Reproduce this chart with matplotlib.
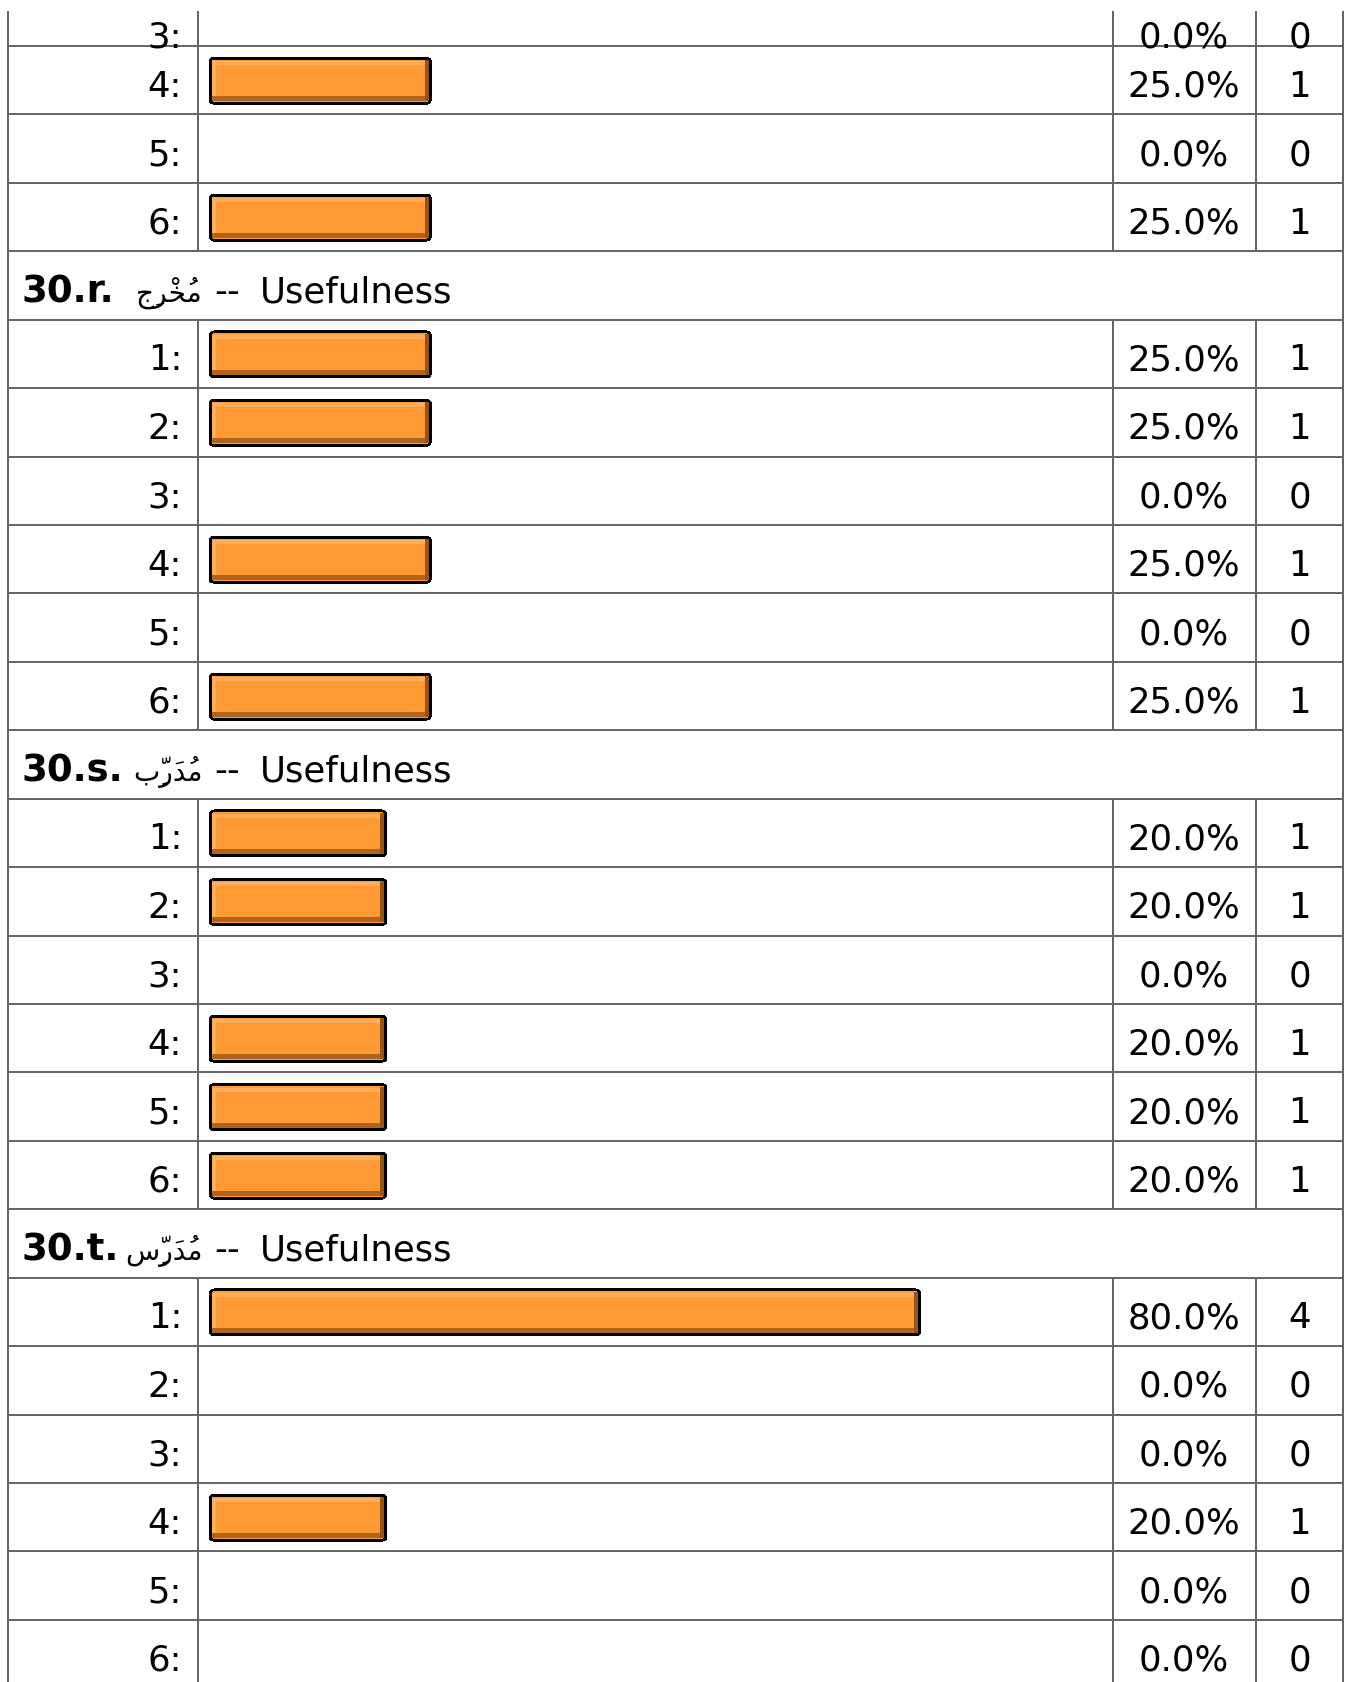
import matplotlib
matplotlib.use("Agg")
import matplotlib.pyplot as plt
from matplotlib.patches import FancyBboxPatch, Rectangle

# ---------------------------------------------------------------------------
# Survey results: rating distribution per term
# ---------------------------------------------------------------------------
lead_labels = ["3:", "4:", "5:", "6:"]
lead_pct = [0.0, 25.0, 0.0, 25.0]
lead_cnt = [0, 1, 0, 1]

section_ids = ["30.r.", "30.s.", "30.t."]
section_words = ["مُخْرِج", "مُدَرِّب", "مُدَرِّس"]
section_dash = "--"
section_title = "Usefulness"

rating_labels = ["1:", "2:", "3:", "4:", "5:", "6:"]

r_pct = [25.0, 25.0, 0.0, 25.0, 0.0, 25.0]
r_cnt = [1, 1, 0, 1, 0, 1]

s_pct = [20.0, 20.0, 0.0, 20.0, 20.0, 20.0]
s_cnt = [1, 1, 0, 1, 1, 1]

t_pct = [80.0, 0.0, 0.0, 20.0, 0.0, 0.0]
t_cnt = [4, 0, 0, 1, 0, 0]

section_pcts = [r_pct, s_pct, t_pct]
section_cnts = [r_cnt, s_cnt, t_cnt]

# ---------------------------------------------------------------------------
# Minimal Arabic shaping (contextual forms + visual order) for the terms used
# ---------------------------------------------------------------------------
FORMS = {
    "ب": ("\uFE8F", "\uFE90", "\uFE91", "\uFE92"),
    "ج": ("\uFE9D", "\uFE9E", "\uFE9F", "\uFEA0"),
    "خ": ("\uFEA5", "\uFEA6", "\uFEA7", "\uFEA8"),
    "د": ("\uFEA9", "\uFEAA", None, None),
    "ر": ("\uFEAD", "\uFEAE", None, None),
    "س": ("\uFEB1", "\uFEB2", "\uFEB3", "\uFEB4"),
    "م": ("\uFEE1", "\uFEE2", "\uFEE3", "\uFEE4"),
}


def shape_arabic(word):
    clusters = []
    for ch in word:
        if ch in FORMS:
            clusters.append([ch, ""])
        else:
            clusters[-1][1] += ch
    out = []
    for i, (base, marks) in enumerate(clusters):
        prev_joins = i > 0 and FORMS[clusters[i - 1][0]][2] is not None
        dual = FORMS[base][2] is not None
        next_joins = dual and i < len(clusters) - 1
        iso, fin, ini, med = FORMS[base]
        if prev_joins and next_joins:
            g = med
        elif prev_joins:
            g = fin
        elif next_joins:
            g = ini
        else:
            g = iso
        # zero-width marks are drawn over the glyph that follows them
        out.append(marks + g)
    return "".join(reversed(out))


# ---------------------------------------------------------------------------
# Layout (pixels)
# ---------------------------------------------------------------------------
W, H = 1348, 1683
DPI = 100
ROW = 68.43          # row pitch
FIRST_LINE = 47.0    # first full horizontal rule
TOP_CLIP = 12.0      # where the visible table starts
X_LEFT, X_LABEL, X_PCT, X_CNT, X_RIGHT = 8, 198, 1113, 1256, 1343
BAR_X0, BAR_SPAN = 209, 890   # pixel position of 0 % and width of 100 %
BAR_H = 47
PT = 72 / DPI
FS = 35.5 * PT       # body text
FS_BOLD = 37 * PT    # section number
FS_AR = 28 * PT      # Arabic term
GRID = "#666666"
LW = 2 * PT

rows = []
for lab, p, c in zip(lead_labels, lead_pct, lead_cnt):
    rows.append(("data", lab, p, c))
for sid, word, pcts, cnts in zip(section_ids, section_words, section_pcts, section_cnts):
    rows.append(("head", sid, word, None))
    for lab, p, c in zip(rating_labels, pcts, cnts):
        rows.append(("data", lab, p, c))

fig = plt.figure(figsize=(W / DPI, H / DPI), dpi=DPI)
fig.patch.set_facecolor("white")
ax = fig.add_axes([0, 0, 1, 1])
ax.set_xlim(0, W)
ax.set_ylim(H, 0)
ax.axis("off")

bx = fig.add_axes([BAR_X0 / W, 0, BAR_SPAN / W, 1])
bx.set_xlim(0, 100)
bx.set_ylim(H, 0)
bx.axis("off")
bx.patch.set_alpha(0)

PX = 100 / BAR_SPAN  # one pixel in percent units


def rounded(x, y, w, h, r, color):
    return FancyBboxPatch((x, y), w, h,
                          boxstyle=f"round,pad=0,rounding_size={r * PX}",
                          mutation_aspect=1 / PX, fc=color, ec="none",
                          antialiased=False)


def draw_bar(yc, value):
    top = yc - BAR_H / 2
    bot = top + BAR_H
    bx.add_patch(rounded(0, top, value, BAR_H, 6, "black"))
    bx.add_patch(rounded(3 * PX, top + 3, value - 6 * PX, BAR_H - 6, 2, "#FF9933"))
    # bevel: light top and left, dark bottom and right
    bx.add_patch(Rectangle((4 * PX, top + 4), value - 11 * PX, 4, fc="#FFAE5A", ec="none"))
    bx.add_patch(Rectangle((3 * PX, top + 4), 4 * PX, BAR_H - 12, fc="#FFAE5A", ec="none"))
    bx.add_patch(Rectangle((3 * PX, bot - 8), value - 9 * PX, 5, fc="#B0641C", ec="none"))
    bx.add_patch(Rectangle((value - 7 * PX, top + 3), 4 * PX, BAR_H - 6, fc="#985412", ec="none"))


for i, row in enumerate(rows):
    top = FIRST_LINE + (i - 1) * ROW
    bot = top + ROW
    vtop = max(top, TOP_CLIP)
    yc = top + ROW / 2
    base = FIRST_LINE + 1 if i == 0 else yc + 15.5

    if i >= 1:
        ax.plot([X_LEFT, X_RIGHT], [top, top], color=GRID, lw=LW, solid_capstyle="butt")
    ax.plot([X_LEFT, X_LEFT], [vtop, bot], color=GRID, lw=LW, solid_capstyle="butt")
    ax.plot([X_RIGHT, X_RIGHT], [vtop, bot], color=GRID, lw=LW, solid_capstyle="butt")

    kind = row[0]
    if kind == "data":
        _, lab, pct, cnt = row
        for xv in (X_LABEL, X_PCT, X_CNT):
            ax.plot([xv, xv], [vtop, bot], color=GRID, lw=LW, solid_capstyle="butt")
        ax.text(182, base, lab, ha="right", va="baseline", fontsize=FS,
                family="DejaVu Sans", color="black")
        ax.text((X_PCT + X_CNT) / 2 - 1, base, f"{pct:.1f}%", ha="center",
                va="baseline", fontsize=FS, family="DejaVu Sans", color="black")
        ax.text((X_CNT + X_RIGHT) / 2, base, f"{cnt}", ha="center",
                va="baseline", fontsize=FS, family="DejaVu Sans", color="black")
        if pct > 0:
            draw_bar(yc + 0.5, pct)
    else:
        _, sid, word, _ = row
        ax.text(21, base, sid, ha="left", va="baseline", fontsize=FS_BOLD,
                fontweight="bold", family="DejaVu Sans", color="black")
        ax.text(203, base, shape_arabic(word), ha="right", va="baseline",
                fontsize=FS_AR, family="DejaVu Sans", color="black")
        ax.text(214, base, section_dash, ha="left", va="baseline",
                fontsize=FS, family="DejaVu Sans", color="black")
        ax.text(260, base, section_title, ha="left", va="baseline",
                fontsize=FS, family="DejaVu Sans", color="black")

fig.savefig("out.png", dpi=DPI, facecolor="white")
